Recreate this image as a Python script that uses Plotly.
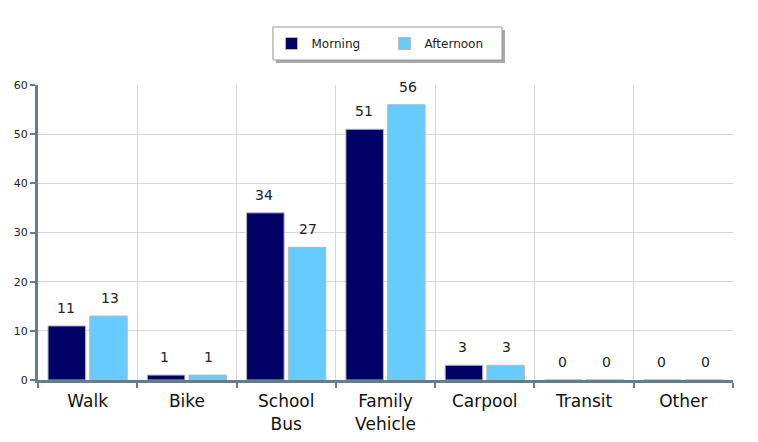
import plotly.graph_objects as go

categories = ["Walk", "Bike", "School<br>Bus", "Family<br>Vehicle", "Carpool", "Transit", "Other"]
morning = [11, 1, 34, 51, 3, 0, 0]
afternoon = [13, 1, 27, 56, 3, 0, 0]
series_names = ["Morning", "Afternoon"]
colors = ["#000066", "#66ccff"]

fig = go.Figure()
for name, vals, col in zip(series_names, [morning, afternoon], colors):
    fig.add_trace(go.Bar(
        x=categories, y=vals, name=name,
        marker=dict(color=col, line=dict(color="#b8b8b8", width=1)),
    ))

annotations = []
for vals, shift in [(morning, -22), (afternoon, 22)]:
    for c, v in zip(categories, vals):
        annotations.append(dict(
            x=c, y=v, text=str(v), showarrow=False, xshift=shift, yshift=8,
            yanchor="bottom", font=dict(size=14, color="#222222", family="DejaVu Sans"),
        ))

# legend frame (box + drop shadow) in paper coordinates
legend_box = dict(x0=0.338, x1=0.6676, y0=1.0847, y1=1.1966)
shadow_dx, shadow_dy = 0.0043, 0.0102
shapes = [
    dict(type="rect", xref="paper", yref="paper",
         x0=legend_box["x0"] + shadow_dx, x1=legend_box["x1"] + shadow_dx,
         y0=legend_box["y0"] - shadow_dy, y1=legend_box["y1"] - shadow_dy,
         fillcolor="#a8a8a8", line=dict(width=0), layer="above"),
    dict(type="rect", xref="paper", yref="paper", **legend_box,
         fillcolor="white", line=dict(color="#999999", width=1), layer="above"),
]

axis_col = "#5f7f8f"
fig.update_layout(
    width=758, height=442,
    margin=dict(l=30, r=33, t=77, b=70, autoexpand=False),
    paper_bgcolor="white", plot_bgcolor="white",
    barmode="group", bargap=0.16, bargroupgap=0.1,
    font=dict(family="DejaVu Sans", color="#222222"),
    annotations=annotations,
    shapes=shapes,
    showlegend=True,
    legend=dict(
        orientation="h", x=0.336, xanchor="left", y=1.1898, yanchor="top",
        borderwidth=0, bgcolor="rgba(0,0,0,0)",
        font=dict(size=12, color="#222222"), entrywidth=68,
    ),
    xaxis=dict(
        type="category", tickson="boundaries", showgrid=True, gridcolor="#d8d8d8",
        showline=True, linecolor=axis_col, linewidth=3, automargin=False,
        ticks="outside", ticklen=5, tickcolor=axis_col, tickwidth=2,
        tickfont=dict(size=17, color="#111111"), ticklabelstandoff=4,
    ),
    yaxis=dict(
        range=[0, 60], dtick=10, showgrid=True, gridcolor="#d8d8d8",
        showline=True, linecolor=axis_col, linewidth=3, automargin=False,
        ticks="outside", ticklen=5, tickcolor=axis_col, tickwidth=2,
        tickfont=dict(size=11, color="#222222"), zeroline=False,
    ),
)

fig.write_html("out.html")
